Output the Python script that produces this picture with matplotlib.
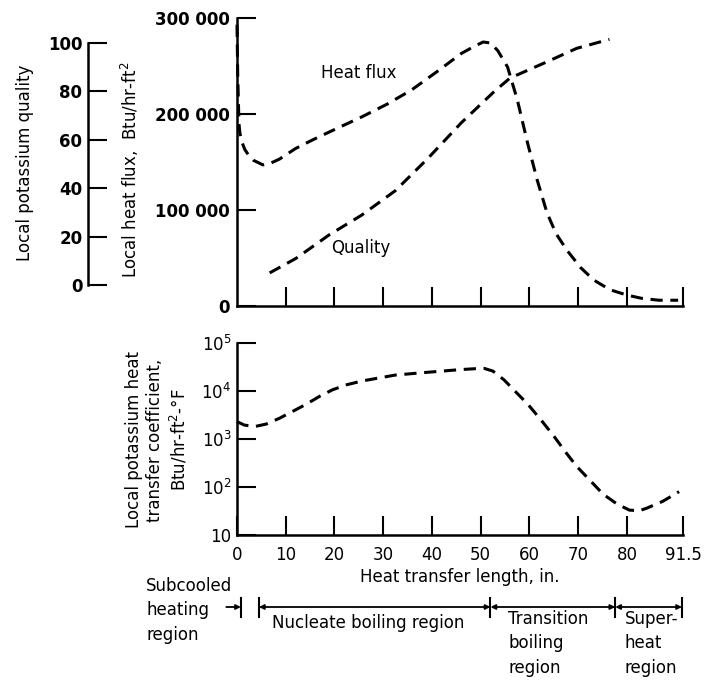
import matplotlib
matplotlib.use("Agg")
import matplotlib.pyplot as plt
import matplotlib.transforms as mtransforms

plt.rcParams['font.family'] = ['DejaVu Sans']
plt.rcParams['mathtext.fontset'] = 'dejavusans'

# ---- data ----
hf_x = [0.0, 0.15, 0.4, 0.6, 1.0, 1.6, 2.4, 3.3, 5.3, 7.0, 8.7, 12.0, 15.5,
        20.5, 25.6, 30.7, 35.8, 41.0, 46.0, 48.5, 50.5, 52.0, 53.5, 55.5, 57.5,
        59.6, 61.6, 63.6, 65.5, 67.7, 70.5, 73.2, 76.5, 79.9, 83.0, 86.6, 90.5]
hf_y = [293000, 240000, 190000, 180000, 171000, 163000, 157000, 152000, 147000,
        149000, 153000, 164000, 173000, 185000, 197000, 210000, 225000, 244000,
        263000, 270000, 275000, 274000, 266000, 249000, 215000, 170000, 131000,
        97000, 75000, 58000, 40000, 27000, 17000, 11500, 8000, 6000, 6000]

q_x = [6.7, 12.1, 18.9, 25.6, 32.5, 39.2, 46.0, 52.8, 56.0, 63.0, 69.7, 76.4]
q_y = [5.0, 11.0, 20.7, 28.9, 39.0, 52.4, 67.0, 80.0, 85.5, 91.7, 97.8, 101.5]

h_x = [0.0, 1.5, 3.7, 6.0, 8.7, 11.5, 14.2, 17.0, 19.6, 22.5, 25.7, 32.5, 39.2,
       46.0, 49.0, 50.7, 52.5, 54.8, 57.0, 59.6, 62.5, 65.0, 67.5, 69.7, 72.5,
       75.1, 78.0, 80.5, 82.5, 84.0, 87.3, 90.7]
h_y = [2300, 1950, 1820, 2050, 2700, 3800, 5300, 7800, 10600, 13500, 16200,
       21500, 24600, 28000, 29200, 29600, 26000, 17000, 10000, 5400, 2400, 1150,
       520, 268, 135, 71, 44, 33, 32, 36, 50, 80]

x_ticks = [0, 10, 20, 30, 40, 50, 60, 70, 80, 91.5]
x_ticklabels = ['0', '10', '20', '30', '40', '50', '60', '70', '80', '91.5']
hf_ticks = [0, 100000, 200000, 300000]
hf_ticklabels = ['0', '100 000', '200 000', '300 000']
q_ticks = [0, 20, 40, 60, 80, 100]
h_ticks = [10, 100, 1000, 10000, 100000]
h_ticklabels = ['10', '10$^2$', '10$^3$', '10$^4$', '10$^5$']

region_bounds = [0.8, 4.5, 52.0, 77.6, 91.3]

# ---- figure layout ----
W, H = 709, 685
fig = plt.figure(figsize=(W / 100, H / 100), dpi=100)

def rect(x0, y0, x1, y1):
    return [x0 / W, 1 - y1 / H, (x1 - x0) / W, (y1 - y0) / H]

FS = 12
dash = (0, (4, 2.5))
LW = 2.2

# top axes: heat flux
ax1 = fig.add_axes(rect(237, 18, 683, 306))
ax1.plot(hf_x, hf_y, color='black', lw=LW, linestyle=dash, clip_on=False)
ax1.set_xlim(0, 91.5)
ax1.set_ylim(0, 300000)
for s in ['top', 'right']:
    ax1.spines[s].set_visible(False)
for s in ['left', 'bottom']:
    ax1.spines[s].set_linewidth(1.8)
ax1.set_xticks(x_ticks[1:])
ax1.set_xticklabels([])
ax1.set_yticks(hf_ticks)
ax1.set_yticklabels(hf_ticklabels, fontsize=FS, fontweight='bold')
ax1.tick_params(axis='both', direction='in', length=14, width=1.5, pad=5)
ax1.text(25, 243000, 'Heat flux', fontsize=FS, ha='center', va='center')
ax1.text(25.4, 60000, 'Quality', fontsize=FS, ha='center', va='center')

# quality curve on twin scale aligned with separate quality axis
axq_t = ax1.twinx()
ppu = (285 - 43) / 100.0
axq_t.set_ylim(-(306 - 285) / ppu, (285 - 18) / ppu)
axq_t.plot(q_x, q_y, color='black', lw=LW, linestyle=dash, clip_on=False)
axq_t.axis('off')

# separate quality axis
axq = fig.add_axes(rect(88, 43, 108, 285))
axq.set_ylim(0, 100)
axq.set_xlim(0, 1)
for s in ['top', 'right', 'bottom']:
    axq.spines[s].set_visible(False)
axq.spines['left'].set_linewidth(1.8)
axq.set_xticks([])
axq.set_yticks(q_ticks)
axq.set_yticklabels([str(t) for t in q_ticks], fontsize=FS, fontweight='bold')
axq.tick_params(axis='y', direction='in', length=14, width=1.5, pad=4)
axq.patch.set_visible(False)

fig.text(25 / W, 1 - 163 / H, 'Local potassium quality', rotation=90,
         fontsize=FS, ha='center', va='center')
fig.text(130 / W, 1 - 170 / H, 'Local heat flux,  Btu/hr-ft$^2$', rotation=90,
         fontsize=FS, ha='center', va='center')

# bottom axes: heat transfer coefficient
ax2 = fig.add_axes(rect(237, 343, 683, 535))
ax2.plot(h_x, h_y, color='black', lw=LW, linestyle=dash, clip_on=False)
ax2.set_yscale('log')
ax2.set_xlim(0, 91.5)
ax2.set_ylim(10, 100000)
for s in ['top', 'right']:
    ax2.spines[s].set_visible(False)
for s in ['left', 'bottom']:
    ax2.spines[s].set_linewidth(1.8)
ax2.set_xticks(x_ticks)
ax2.set_xticklabels(x_ticklabels, fontsize=FS)
ax2.set_yticks(h_ticks)
ax2.set_yticklabels(h_ticklabels, fontsize=FS)
ax2.minorticks_off()
ax2.tick_params(axis='both', direction='in', length=14, width=1.5)
ax2.tick_params(axis='x', pad=8)
ax2.tick_params(axis='y', pad=4)
ax2.set_xlabel('Heat transfer length, in.', fontsize=FS, labelpad=3)

fig.text(157 / W, 1 - 440 / H,
         'Local potassium heat\ntransfer coefficient,\nBtu/hr-ft$^2$-°F',
         rotation=90, fontsize=FS, ha='center', va='center',
         multialignment='center', linespacing=1.25)

# region annotation below bottom axes
trans = mtransforms.blended_transform_factory(ax2.transData, fig.transFigure)
yl = 1 - 607 / H
yb0, yb1 = 1 - 598 / H, 1 - 617 / H
for b in region_bounds:
    ax2.plot([b, b], [yb0, yb1], transform=trans, color='black', lw=1.5,
             clip_on=False)
arrow_kw = dict(arrowstyle='<|-|>', color='black', lw=1.3,
                mutation_scale=7, shrinkA=0, shrinkB=0)
for a, b in zip(region_bounds[1:-1], region_bounds[2:]):
    ax2.annotate('', xy=(a, yl), xytext=(b, yl), xycoords=trans,
                 textcoords=trans, arrowprops=arrow_kw, annotation_clip=False)
ax2.annotate('', xy=(region_bounds[0], yl), xytext=(-2.2, yl),
             xycoords=trans, textcoords=trans,
             arrowprops=dict(arrowstyle='-|>', color='black', lw=1.3,
                             mutation_scale=7, shrinkA=0, shrinkB=0),
             annotation_clip=False)

fig.text(146 / W, 1 - 577 / H, 'Subcooled\nheating\nregion', fontsize=FS,
         ha='left', va='top', linespacing=1.45)
fig.text(368 / W, 1 - 623 / H, 'Nucleate boiling region', fontsize=FS,
         ha='center', va='center')
fig.text(508 / W, 1 - 610 / H, 'Transition\nboiling\nregion', fontsize=FS,
         ha='left', va='top', linespacing=1.45)
fig.text(625 / W, 1 - 610 / H, 'Super-\nheat\nregion', fontsize=FS,
         ha='left', va='top', linespacing=1.45)

fig.savefig('out.png', dpi=100)
